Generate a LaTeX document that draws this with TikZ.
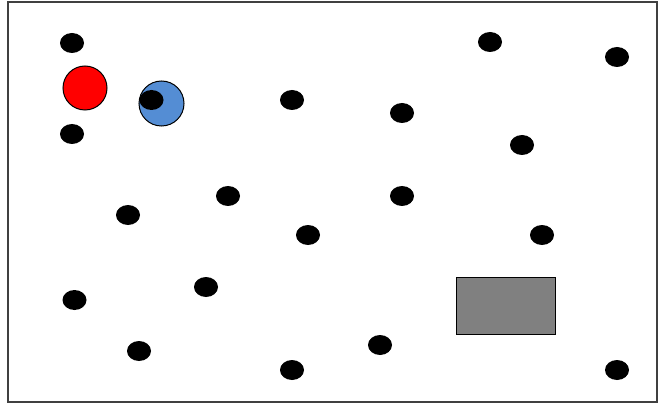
\documentclass[tikz,border=0pt]{standalone}
\usetikzlibrary{shapes.geometric}
\begin{document}
\begin{tikzpicture}[x=1pt,y=-1pt,
  dot/.style={ellipse,fill=black,minimum width=24pt,minimum height=20pt,inner sep=0pt},
  frame/.style={draw=black!75,line width=1.8pt}]
\useasboundingbox (0,0) rectangle (661,406);
\draw[frame] (8,2) rectangle (657,402);
\node[circle,draw=black,line width=1pt,fill=red,minimum size=44pt,inner sep=0pt] (red) at (85,88) {};
\node[circle,draw=black,line width=1pt,fill={rgb,255:red,84;green,141;blue,212},minimum size=45pt,inner sep=0pt] (blue) at (161.5,103.5) {};
\node[dot] (inner) at (151.5,100) {};
\node[rectangle,draw=black,line width=1pt,fill=black!50,minimum width=99pt,minimum height=57pt,inner sep=0pt] (box) at (505.5,306) {};
\foreach \x/\y [count=\i] in {72/43, 490/42, 617/57, 292/100, 402/113, 72/134, 522/145, 128/215, 228/196, 402/196, 308/235, 542/235, 74.5/300, 206/287, 139/351, 292/370, 380/345, 617/370}
  \node[dot] (d\i) at (\x,\y) {};
\end{tikzpicture}
\end{document}
